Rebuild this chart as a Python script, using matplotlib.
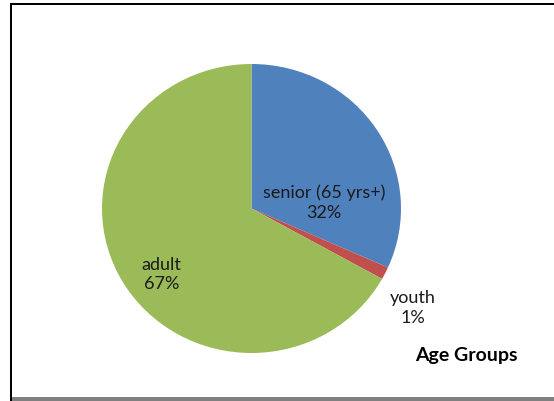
import matplotlib
matplotlib.use("Agg")
import matplotlib.pyplot as plt
from matplotlib.patches import Rectangle

# age groups, share of total (percent)
groups = ["senior (65 yrs+)", "youth", "adult"]
shares = [31.7, 1.4, 66.9]
shown_pct = ["32%", "1%", "67%"]
colors = ["#4F81BD", "#C0504D", "#9BBB59"]
title = "Age Groups"

W, H = 554, 402
fig = plt.figure(figsize=(W / 100, H / 100), dpi=100)
plt.rcParams['font.family'] = ['Lato', 'DejaVu Sans']

# pie box in pixels (slightly wider than tall like the original)
px0, px1, py0, py1 = 102, 401, 65, 354
ax = fig.add_axes([px0 / W, 1 - py1 / H, (px1 - px0) / W, (py1 - py0) / H])
wedges, _ = ax.pie(shares, colors=colors, startangle=90, counterclock=False,
                   radius=1.0, wedgeprops=dict(linewidth=0))
ax.set_aspect('auto')
ax.set_xlim(-1, 1)
ax.set_ylim(-1, 1)
ax.axis('off')

# label spots (axes units)
spots = [(0.485, 0.05), (1.08, -0.68), (-0.60, -0.45)]
for name, pct, (x, y) in zip(groups, shown_pct, spots):
    ax.text(x, y, name + "\n" + pct, ha='center', va='center',
            fontsize=13, color='#1a1a1a', linespacing=1.3, clip_on=False)

fig.text(466 / W, 1 - 356 / H, title, ha='center', va='center',
         fontsize=14, fontweight='bold', color='black')

# frame: black left and top, gray bottom
fig.add_artist(Rectangle((10 / W, 0), 2 / W, 1 - 4 / H, transform=fig.transFigure,
                         color='black', lw=0))
fig.add_artist(Rectangle((10 / W, 1 - 6 / H), 1, 2 / H, transform=fig.transFigure,
                         color='black', lw=0))
fig.add_artist(Rectangle((12 / W, 0), 1, 4 / H, transform=fig.transFigure,
                         color='#808080', lw=0))

fig.savefig("out.png", dpi=100)
